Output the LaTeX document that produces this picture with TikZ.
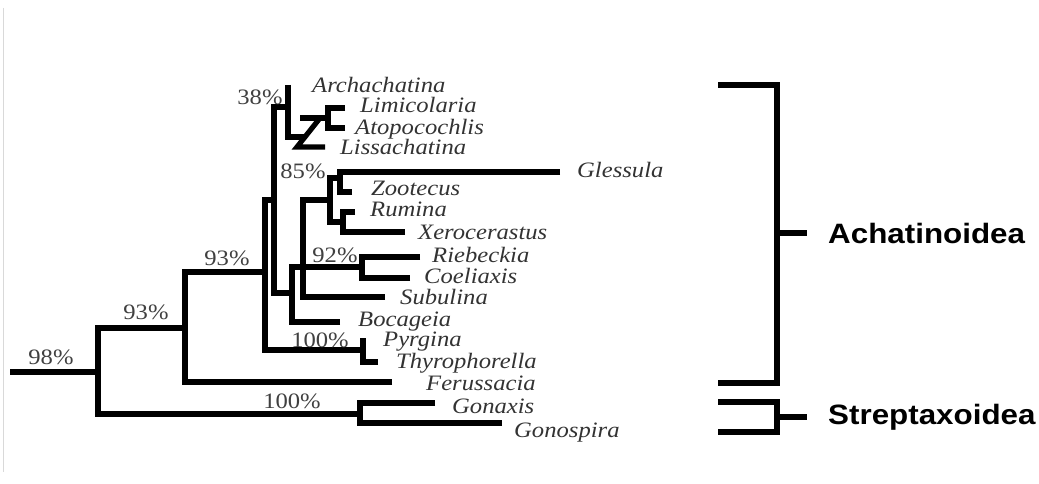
\documentclass[tikz,border=0pt]{standalone}
\usepackage{fontspec}
\setmainfont{Liberation Serif}
\newfontfamily\taxonfont[FakeStretch=1.12]{Liberation Serif}
\newfontfamily\cladefont[FakeStretch=1.12]{Liberation Sans}
\usetikzlibrary{positioning}

\begin{document}
\begin{tikzpicture}[x=1pt, y=-1pt,
    branch/.style={line width=5.2pt},
    taxon/.style={anchor=base west, inner sep=0pt, text=black!80,
        font=\taxonfont\fontsize{22}{22}\selectfont\itshape},
    support/.style={inner sep=0pt, text=black!75,
        font=\taxonfont\fontsize{22}{22}\selectfont},
    clade/.style={inner sep=0pt, font=\cladefont\fontsize{28}{28}\selectfont\bfseries}]
    \useasboundingbox (0,0) rectangle (1039,484);
    \draw[black!15, line width=0.8pt] (3,8) -- (3,472);

    % Branch tips
    \foreach \name/\x/\y in {Archachatina/288/85, Limicolaria/345/108, Atopocochlis/345/128,
        Lissachatina/325/147, Glessula/560/172, Zootecus/352/192, Rumina/355/212,
        Xerocerastus/405/232, Riebeckia/420/257, Coeliaxis/410/278, Subulina/385/297,
        Bocageia/340/322, Pyrgina/363/338, Thyrophorella/378/362, Ferussacia/392/382,
        Gonaxis/435/403, Gonospira/502/423}
        \coordinate (t-\name) at (\x,\y);

    % Splits (x of the split, y where the parent branch joins)
    \coordinate (root) at (10,372);
    \coordinate (n1) at (98,372);
    \coordinate (n2) at (185,328);
    \coordinate (strep) at (360,414);
    \coordinate (n3) at (265,272);
    \coordinate (pyr) at (363,350);
    \coordinate (n4) at (274,200);
    \coordinate (n5) at (288,107);
    \coordinate (n6) at (292,293);
    \coordinate (n7) at (303,267);
    \coordinate (n8) at (330,200);
    \coordinate (n9) at (362,267);
    \coordinate (n10) at (340,178);
    \coordinate (n11) at (343,222);
    \coordinate (n13) at (328,118);
    \coordinate (zmid) at (305,137);
    \coordinate (zleft) at (300,118);
    \coordinate (ztop) at (320,118);
    \coordinate (zbot) at (297,147);

    % Tree
    \draw[branch] (root) -- (n1);
    \foreach \child/\parent in {n2/n1, strep/n1, n3/n2, t-Ferussacia/n2,
        t-Gonaxis/strep, t-Gonospira/strep, n4/n3, pyr/n3,
        t-Pyrgina/pyr, t-Thyrophorella/pyr, n5/n4, n6/n4,
        n7/n6, t-Bocageia/n6, n8/n7, n9/n7, t-Subulina/n7,
        t-Riebeckia/n9, t-Coeliaxis/n9, n10/n8, n11/n8,
        t-Glessula/n10, t-Zootecus/n10, t-Rumina/n11, t-Xerocerastus/n11,
        t-Limicolaria/n13, t-Atopocochlis/n13}
        \draw[branch] (\child) -| (\parent);
    \draw[branch] (t-Archachatina) |- (zmid);
    \draw[branch] (zleft) -- (n13);
    \draw[branch] (ztop) -- (zbot) -- (t-Lissachatina);

    % Taxon names
    \foreach \name/\x/\y in {Archachatina/312/87, Limicolaria/360/107, Atopocochlis/355/129,
        Lissachatina/340/149, Glessula/577/172, Zootecus/371/189, Rumina/370/210,
        Xerocerastus/418/233, Riebeckia/432/256, Coeliaxis/424/277, Subulina/400/298,
        Bocageia/358/320, Pyrgina/383/340, Thyrophorella/396/362, Ferussacia/426/384,
        Gonaxis/452/407, Gonospira/514/431}
        \node[taxon] (\name) at (\x,{\y+6}) {\name};

    % Support values
    \node[support] (s98) at (51,357) {98\%};
    \node[support] (s93a) at (146,312) {93\%};
    \node[support] (s93b) at (227,258) {93\%};
    \node[support] (s100a) at (292,401) {100\%};
    \node[support] (s38) at (260,97) {38\%};
    \node[support] (s85) at (303,171) {85\%};
    \node[support] (s92) at (335,255) {92\%};
    \node[support] (s100b) at (320,340) {100\%};

    % Superfamily brackets
    \coordinate (achtop) at (718,85);
    \coordinate (achbot) at (718,383);
    \coordinate (achjoin) at (777,233);
    \coordinate (achtick) at (807,233);
    \coordinate (strtop) at (718,402);
    \coordinate (strbot) at (718,432);
    \coordinate (strjoin) at (777,417);
    \coordinate (strtick) at (807,417);
    \draw[branch] (achtop) -| (achjoin) |- (achbot);
    \draw[branch] (achjoin) -- (achtick);
    \draw[branch] (strtop) -| (strjoin) |- (strbot);
    \draw[branch] (strjoin) -- (strtick);
    \node[clade, right=21pt of achtick] (achatinoidea) {Achatinoidea};
    \node[clade, right=21pt of strtick] (streptaxoidea) {Streptaxoidea};
\end{tikzpicture}
\end{document}
